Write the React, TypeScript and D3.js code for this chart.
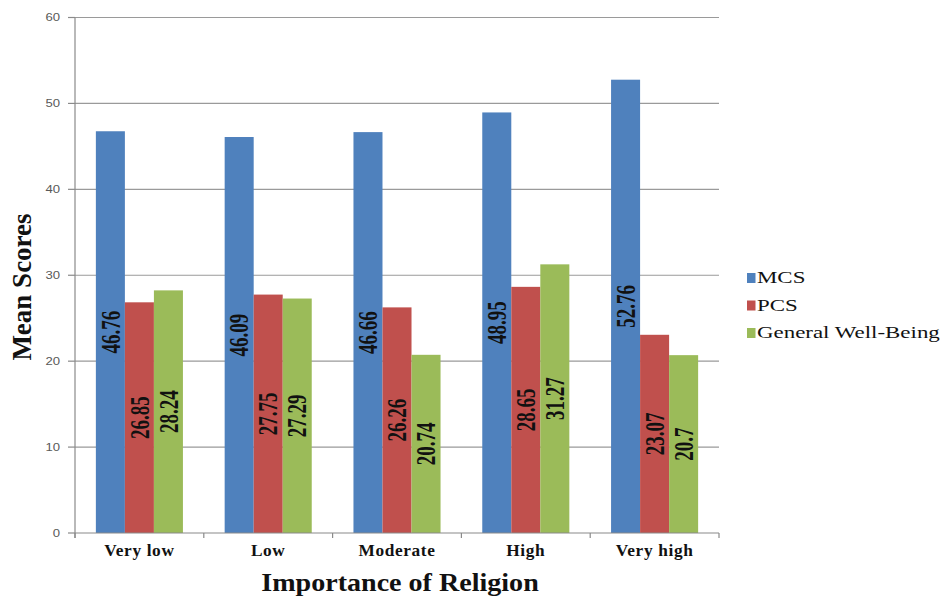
import React from "react";
import * as d3 from "d3";

// Mean scores by importance of religion
const categories = ["Very low", "Low", "Moderate", "High", "Very high"];
const seriesNames = ["MCS", "PCS", "General Well-Being"];
const mcs = [46.76, 46.09, 46.66, 48.95, 52.76];
const pcs = [26.85, 27.75, 26.26, 28.65, 23.07];
const gwb = [28.24, 27.29, 20.74, 31.27, 20.7];
const labelText = [
  ["46.76", "46.09", "46.66", "48.95", "52.76"],
  ["26.85", "27.75", "26.26", "28.65", "23.07"],
  ["28.24", "27.29", "20.74", "31.27", "20.7"],
];
const yTicks = [0, 10, 20, 30, 40, 50, 60];
const colors = ["#4F81BD", "#C0504D", "#9BBB59"];

const W = 944;
const H = 596;
const plot = { left: 75, right: 719, top: 17.5, bottom: 533 };
const serif = "'Liberation Serif', 'Times New Roman', serif";
const sans = "'Liberation Sans', Arial, sans-serif";

export default function App() {
  const series = [mcs, pcs, gwb];

  const x0 = d3
    .scaleBand<string>()
    .domain(categories)
    .range([plot.left, plot.right])
    .paddingInner(0.324)
    .paddingOuter(0.162);
  const x1 = d3
    .scaleBand<string>()
    .domain(seriesNames)
    .range([0, x0.bandwidth()]);
  const y = d3.scaleLinear().domain([0, 60]).range([plot.bottom, plot.top]);

  const step = (plot.right - plot.left) / categories.length;
  const boundaries = d3.range(categories.length + 1).map((i) => plot.left + i * step);

  return (
    <svg
      width={W}
      height={H}
      style={{ position: "absolute", left: 0, top: 0, background: "#fff" }}
    >
      {/* gridlines and y ticks */}
      {yTicks.map((t) => (
        <g key={t}>
          {t > 0 && (
            <line
              x1={plot.left}
              x2={plot.right}
              y1={y(t)}
              y2={y(t)}
              stroke="#9a9a9a"
              strokeWidth={1.2}
            />
          )}
          <line x1={plot.left - 7} x2={plot.left} y1={y(t)} y2={y(t)} stroke="#8a8a8a" strokeWidth={1.2} />
          <text
            transform={`translate(${plot.left - 15},${y(t)}) scale(1.25,1)`}
            textAnchor="end"
            dominantBaseline="central"
            fontFamily={sans}
            fontSize={10.5}
            fill="#595959"
          >
            {t}
          </text>
        </g>
      ))}

      {/* bars */}
      {categories.map((c, ci) => (
        <g key={c} transform={`translate(${x0(c)},0)`}>
          {series.map((vals, si) => (
            <rect
              key={si}
              x={x1(seriesNames[si])}
              y={y(vals[ci])}
              width={x1.bandwidth()}
              height={y(0) - y(vals[ci])}
              fill={colors[si]}
            />
          ))}
        </g>
      ))}

      {/* value labels */}
      {categories.map((c, ci) =>
        series.map((vals, si) => {
          const cx = (x0(c) as number) + (x1(seriesNames[si]) as number) + x1.bandwidth() / 2;
          const cy = (y(vals[ci]) + y(0)) / 2;
          return (
            <text
              key={`${ci}-${si}`}
              transform={`translate(${cx},${cy}) scale(1.4,1) rotate(-90)`}
              textAnchor="middle"
              dominantBaseline="central"
              fontFamily={serif}
              fontWeight="bold"
              fontSize={19}
              fill="#111"
            >
              {labelText[si][ci]}
            </text>
          );
        })
      )}

      {/* axes */}
      <line x1={plot.left} x2={plot.left} y1={plot.top} y2={plot.bottom + 5} stroke="#8a8a8a" strokeWidth={1.2} />
      <line x1={plot.left} x2={plot.right} y1={plot.bottom} y2={plot.bottom} stroke="#8a8a8a" strokeWidth={1.2} />
      {boundaries.map((bx, i) => (
        <line key={i} x1={bx} x2={bx} y1={plot.bottom} y2={plot.bottom + 5} stroke="#8a8a8a" strokeWidth={1.2} />
      ))}

      {/* category labels */}
      {categories.map((c) => (
        <text
          key={c}
          transform={`translate(${(x0(c) as number) + x0.bandwidth() / 2},556) scale(1.05,1)`}
          textAnchor="middle"
          fontFamily={serif}
          fontWeight="bold"
          fontSize={16.5}
          letterSpacing={0.6}
          fill="#111"
        >
          {c}
        </text>
      ))}

      {/* axis titles */}
      <text
        transform={`translate(400,591) scale(1.08,1)`}
        textAnchor="middle"
        fontFamily={serif}
        fontWeight="bold"
        fontSize={26}
        fill="#111"
      >
        Importance of Religion
      </text>
      <text
        transform={`translate(22,287) rotate(-90)`}
        textAnchor="middle"
        dominantBaseline="central"
        fontFamily={serif}
        fontWeight="bold"
        fontSize={27}
        fill="#111"
      >
        Mean Scores
      </text>

      {/* legend */}
      {seriesNames.map((name, i) => {
        const ly = 283 + i * 27.5;
        return (
          <g key={name}>
            <rect x={747} y={ly - 10} width={8.5} height={10} fill={colors[i]} />
            <text
              transform={`translate(757,${ly}) scale(1.38,1)`}
              fontFamily={serif}
              fontSize={16.6}
              fill="#111"
            >
              {name}
            </text>
          </g>
        );
      })}
    </svg>
  );
}
